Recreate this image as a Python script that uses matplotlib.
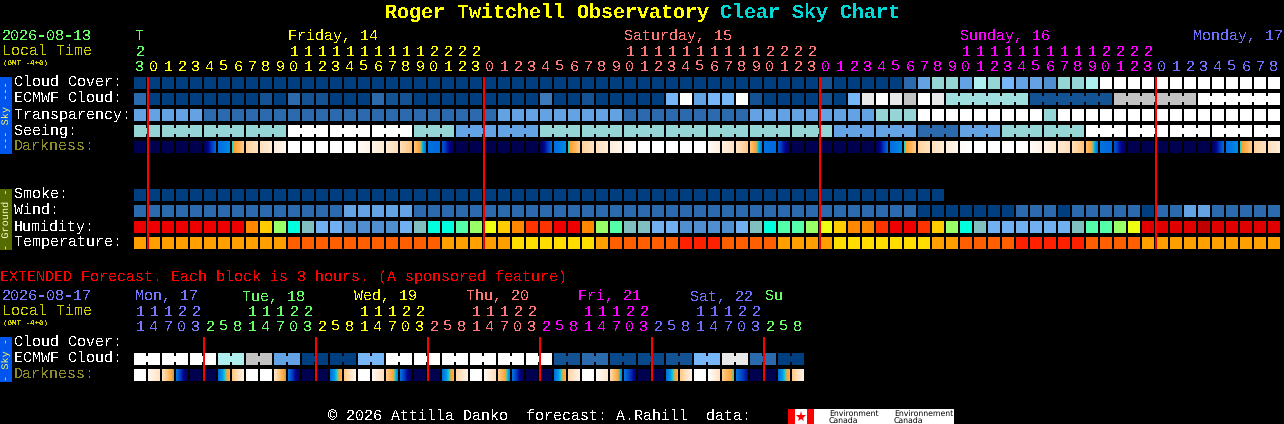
import numpy as np
import matplotlib
matplotlib.use("Agg")
import matplotlib.pyplot as plt
from matplotlib.colors import LinearSegmentedColormap

# ---------- data (one code per block) ----------
cloud_cover = ("0000000000" "0000000000" "0000000000" "0000000000" "0000000001"
               "0000025775" "876554778b" "bbbbbbbbbb" "bb")
ecmwf_cloud = ("2000000001" "0211000211" "0000000003" "001000006b" "566b100001"
               "06aba9bacc" "cccc111111" "999999bbbb" "bb")
transparency = ("5555522222" "2222222222" "2222225555" "5555522222" "2222555555"
                "555777bbbb" "bbbbb7bbbb" "bbbbbbbbbb" "bb")
seeing = ("7777777777" "7bbbbbbbbb" "7775555557" "7777777777" "7777777777"
          "5555552225" "55777777bb" "bbbbbbbbbb" "bb")
smoke = "0000000000" "0000000000" "0000000000" "0000000000" "0000000000" "00000000"
wind = ("2222222222" "2222255555" "2222222222" "2222222222" "2222222222"
        "2222220000" "0002220222" "2202255222" "22")
humidity = ("rrrrrrrroa" "lcgssbbbbs" "gccmlyaott" "rrolmggssb" "bbbsgcmmly"
            "aootrrtalc" "gssssssgmm" "lyeeeedeee" "ee")
temperature = ("oooooooooo" "offfffffff" "ffoooooyyy" "yyyofffffr" "rrffffoooo"
               "yyyyyyyoof" "fffrrrrrff" "ffoooooooo" "oo")
dark_left = [0,0,0,0,0, 2,30,42,70,78, 88,100,100,100,100, 100,97,92,86,76,
             60,30,24,0,0, 0,0,0,0,2, 30,42,70,78,88, 95,100,100,100,100,
             100,97,90,80,60, 30,24,0,0,0, 0,0,0,2,30, 42,70,78,88,98,
             100,100,100,100,97, 92,86,76,58,30, 24,0,0,0,0, 0,0,2,30,42, 70,78]
dark_right = [0,0,0,0,0, 28,34,65,78,88, 95,100,100,100,100, 100,92,86,76,62,
              32,29,2,0,0, 0,0,0,0,28, 34,65,78,88,95, 99,100,100,100,100,
              100,90,80,65,32, 29,2,0,0,0, 0,0,0,28,34, 65,78,88,95,100,
              100,100,100,100,92, 86,76,62,32,29, 2,0,0,0,0, 0,0,28,34,65, 78,88]
ext_ecmwf = "bbbbbb8899" "55000066bb" "bbbbbbbbbb" "1122dddd11" "66aa2200"
ext_dark_left = [100,95,78,30,0,0,30,64, 100,100,80,30,0,0,30,64,
                 100,97,65,30,0,0,30,72, 100,97,65,30,0,0,30,72,
                 100,97,72,30,0,0,30,65, 100,100,65,30,0,0,30,65]
ext_dark_right = [100,80,42,0,0,0,50,92, 100,100,42,0,0,0,50,95,
                  100,78,35,0,0,0,50,92, 100,78,35,0,0,0,50,92,
                  100,85,35,8,0,0,50,92, 100,80,42,12,0,0,50,92]

hours_main = [23] + list(range(24)) * 3 + list(range(9))
hours_ext = [11,14,17,20,23] + [2,5,8,11,14,17,20,23] * 5 + [2,5,8]
main_days = [("Friday, 14", 288, "#ffff00"), ("Saturday, 15", 624, "#ff7777"),
             ("Sunday, 16", 960, "#ff00ff"), ("Monday, 17", 1193, "#6e6eff")]
ext_days = [("Mon, 17", 135, "#7777ff"), ("Tue, 18", 242, "#66ff66"), ("Wed, 19", 354, "#ffff00"),
            ("Thu, 20", 466, "#ff7777"), ("Fri, 21", 578, "#ff00ff"), ("Sat, 22", 690, "#6e6eff"),
            ("Su", 765, "#66ff66")]

sky_colors = {"0": "#003f7f", "d": "#0a4989", "1": "#135393", "2": "#2a6aad", "3": "#3b7bbb",
              "4": "#4f8fcf", "5": "#63a3e3", "6": "#77b7f7", "7": "#95d5d5", "c": "#9fdfdf",
              "8": "#aeeeee", "9": "#c2c2c2", "a": "#e8e8e8", "b": "#ffffff"}
hum_colors = {"r": "#ee0000", "e": "#e00000", "d": "#c00000", "t": "#ff3300", "o": "#ff8800",
              "a": "#ffcc00", "y": "#eeff11", "l": "#99ff66", "m": "#55ffaa", "c": "#00ffdd",
              "g": "#80bfbf", "s": "#70b0f0", "b": "#4f8fcf"}
temp_colors = {"o": "#ffa000", "f": "#ff5f00", "y": "#ffdd00", "r": "#ff2000"}
dark_cmap = LinearSegmentedColormap.from_list("dark", [
    (0.00, "#000050"), (0.10, "#000090"), (0.20, "#0040c0"), (0.30, "#0070e0"),
    (0.38, "#00a0e8"), (0.42, "#30d0c0"), (0.46, "#ffa030"), (0.60, "#ffc070"),
    (0.75, "#ffdcb4"), (0.90, "#ffefde"), (1.00, "#ffffff")])

# ---------- layout ----------
plt.rcParams["text.antialiased"] = False
plt.rcParams["text.hinting"] = "no_hinting"
MONO = "Liberation Mono"
X0, STEP, W = 134, 14, 12
fig = plt.figure(figsize=(12.84, 4.24), dpi=100, facecolor="black")
ax = fig.add_axes([0, 0, 1, 1], facecolor="black")


def txt(x, y, s, c="white", size=10.85, **kw):
    kw.setdefault("family", MONO)
    ax.text(x, y, s, color=c, fontsize=size, va="baseline", **kw)


def box(x, top, w, h, color, z=2):
    """Exact pixel-aligned rectangle drawn through the axes."""
    ax.bar(x, h, w, bottom=top, align="edge", color=color, linewidth=0, antialiased=False, zorder=z)


def row(codes, top, palette, connect=None):
    xs = X0 + STEP * np.arange(len(codes))
    cols = [palette[c] for c in codes]
    box(xs, top, W, W, cols)
    if connect:
        for i in range(len(codes) - 1):
            if connect(i) and codes[i] == codes[i + 1]:
                box(xs[i] + W, top + 3, STEP - W, 6, cols[i])


def dark_row(left, right, top):
    for i, (a, b) in enumerate(zip(left, right)):
        x = X0 + STEP * i
        ax.imshow(np.linspace(a, b, W)[None, :], cmap=dark_cmap, vmin=0, vmax=100, aspect="auto",
                  interpolation="nearest", extent=(x, x + W, top + W, top), zorder=2)


def hour_color(h_index, bounds):
    for b, c in bounds:
        if h_index < b:
            return c
    return bounds[-1][1]


# title
txt(385, 18, "Roger Twitchell Observatory", "#ffff00", 14.4, weight="bold")
txt(720, 18, "Clear Sky Chart", "#00d8d8", 14.4, weight="bold")

# main header
txt(2, 40, "2026-08-13", "#66ff66")
txt(2, 56, "Local Time", "#cccc00")
txt(3, 65, "(GMT -4+0)", "#cccc00", 5.4, weight="bold")
txt(140, 40, "T", "#66ff66", ha="center")
for name, x, c in main_days:
    txt(x, 40, name, c)
main_bounds = [(1, "#66ff66"), (25, "#ffff00"), (49, "#ff7777"), (73, "#ff00ff"), (82, "#6e6eff")]
for i, h in enumerate(hours_main):
    c = hour_color(i, main_bounds)
    x = X0 + STEP * i + 6
    if h >= 10:
        txt(x, 56, str(h // 10), c, ha="center")
    txt(x, 71, str(h % 10), c, ha="center")

# main rows
sky_rows = [("Cloud Cover:", 77, "white"), ("ECMWF Cloud:", 93, "white"), ("Transparency:", 109, "white"),
            ("Seeing:", 125, "white"), ("Darkness:", 141, "#8c8c28")]
for label, top, c in sky_rows:
    txt(14, top + 10, label, c)
ground_rows = [("Smoke:", 189), ("Wind:", 205), ("Humidity:", 221), ("Temperature:", 237)]
for label, top in ground_rows:
    txt(14, top + 10, label)

row(cloud_cover, 77, sky_colors)
row(ecmwf_cloud, 93, sky_colors, connect=lambda i: i >= 58)
row(transparency, 109, sky_colors)
row(seeing, 125, sky_colors, connect=lambda i: i == 0 or (i >= 2 and (i - 2) % 3 != 2))
dark_row(dark_left, dark_right, 141)
row(smoke, 189, sky_colors)
row(wind, 205, sky_colors)
row(humidity, 221, hum_colors)
row(temperature, 237, temp_colors)

# side bars
side = dict(fontsize=7.4, rotation=90, ha="center", va="center", family=MONO, antialiased=True, zorder=3)
box(0, 77, 12, 77, "#0055ee", 1)
ax.text(6, 115, "--- Sky ---", color="#ffff66", **side)
box(0, 189, 12, 61, "#556b00", 1)
ax.text(6, 219.5, "- Ground -", color="#ffffcc", **side)
box(0, 337, 12, 45, "#0055ee", 1)
ax.text(6, 359, "- Sky -", color="#ffff66", **side)

# red day lines
for x in (147, 483, 819, 1155):
    box(x, 77, 2, 172, "#ff0000", 4)
for x in (203, 315, 427, 539, 651, 763):
    box(x, 337, 2, 44, "#ff0000", 4)

# extended
txt(0, 281, "EXTENDED Forecast. Each block is 3 hours. (A sponsored feature)", "#ff0000")
txt(2, 300, "2026-08-17", "#7777ff")
txt(2, 316, "Local Time", "#cccc00")
txt(3, 325, "(GMT -4+0)", "#cccc00", 5.4, weight="bold")
for name, x, c in ext_days:
    txt(x, 300, name, c)
ext_bounds = [(5, "#7777ff"), (13, "#66ff66"), (21, "#ffff00"), (29, "#ff7777"),
              (37, "#ff00ff"), (45, "#6e6eff"), (48, "#66ff66")]
for i, h in enumerate(hours_ext):
    c = hour_color(i, ext_bounds)
    x = X0 + STEP * i + 6
    if h >= 10:
        txt(x, 316, str(h // 10), c, ha="center")
    txt(x, 331, str(h % 10), c, ha="center")
txt(14, 347, "Cloud Cover:")
txt(14, 363, "ECMWF Cloud:")
txt(14, 379, "Darkness:", "#8c8c28")
row(ext_ecmwf, 353, sky_colors, connect=lambda i: i % 2 == 0)
dark_row(ext_dark_left, ext_dark_right, 369)

# footer
txt(328, 421, "\u00a9 2026 Attilla Danko  forecast: A.Rahill  data:")
box(795, 409, 159, 15, "white", 2)
box([788, 807], 409, 7, 15, "#ff0000", 3)
ax.plot([801], [416.5], marker="*", ms=8, color="#ff0000", mew=0, zorder=4)
for x, s in ((829, "Environment"), (894, "Environnement")):
    ax.text(x, 415.5, s, color="black", fontsize=5.6, family="DejaVu Sans", zorder=5, va="baseline", antialiased=True)
    ax.text(x, 423, "Canada", color="black", fontsize=5.6, family="DejaVu Sans", zorder=5, va="baseline", antialiased=True)

ax.set_xlim(0, 1284)
ax.set_ylim(424, 0)
ax.axis("off")
fig.savefig("out.png", dpi=100, facecolor="black")
